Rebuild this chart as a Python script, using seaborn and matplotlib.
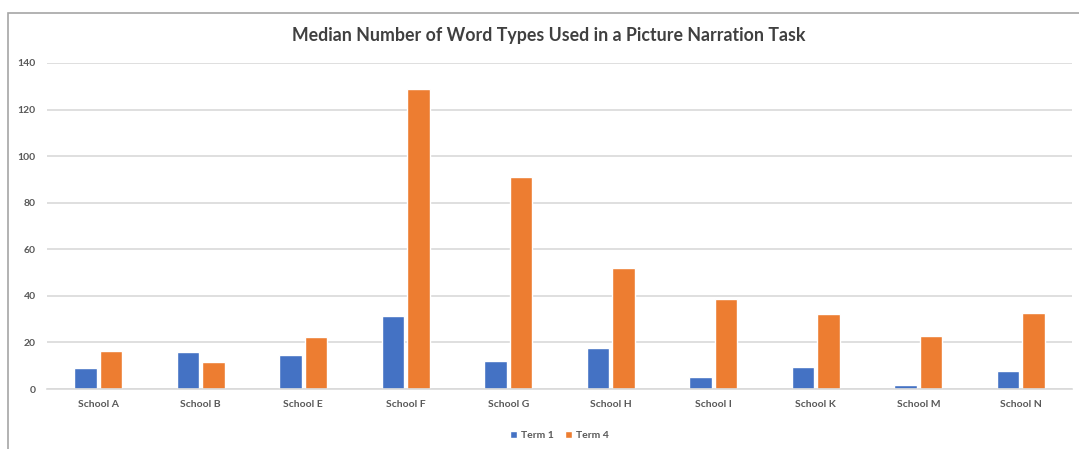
import seaborn as sns
import matplotlib.pyplot as plt
import pandas as pd
from matplotlib.patches import Rectangle

schools = ['School A', 'School B', 'School E', 'School F', 'School G',
           'School H', 'School I', 'School K', 'School M', 'School N']
term1 = [9, 16, 14.5, 31.5, 12, 17.5, 5.2, 9.5, 1.7, 7.7]
term4 = [16.5, 11.8, 22.3, 129, 91, 52, 38.7, 32.3, 22.8, 32.8]
terms = ['Term 1', 'Term 4']
colors = ['#4472C4', '#ED7D31']


def main():
    df = pd.DataFrame({'School': schools * 2,
                       'Term': [terms[0]] * len(schools) + [terms[1]] * len(schools),
                       'Value': term1 + term4})

    sns.set_style('white')
    plt.rcParams['font.family'] = ['Lato', 'DejaVu Sans']

    fig = plt.figure(figsize=(10.79, 4.49), dpi=100)
    ax = fig.add_axes([0.0436, 0.1336, 0.95, 0.7261])

    sns.barplot(data=df, x='School', y='Value', hue='Term', palette=colors,
                width=0.5, gap=0.12, saturation=1, ax=ax, legend=True)

    ax.set_ylim(0, 140)
    ax.set_yticks(range(0, 141, 20))
    ax.yaxis.grid(True, color='#D9D9D9', linewidth=1.2)
    ax.set_axisbelow(True)
    for s in ['top', 'right', 'left']:
        ax.spines[s].set_visible(False)
    ax.spines['bottom'].set_color('#D9D9D9')
    ax.spines['bottom'].set_linewidth(1.2)
    ax.tick_params(axis='both', length=0, labelsize=7.5, labelcolor='#595959', pad=8)
    for lab in ax.get_xticklabels() + ax.get_yticklabels():
        lab.set_fontweight('bold')
    ax.set_xlabel('')
    ax.set_ylabel('')

    fig.text(0.509, 0.922, 'Median Number of Word Types Used in a Picture Narration Task',
             ha='center', va='center', fontsize=12.8, fontweight='bold', color='#404040')

    leg = ax.legend(loc='upper center', bbox_to_anchor=(0.5, -0.1), ncol=2, frameon=False,
                    fontsize=7.5, handlelength=0.7, handleheight=0.7, columnspacing=1.0,
                    handletextpad=0.4)
    for t in leg.get_texts():
        t.set_color('#595959')
        t.set_fontweight('bold')

    # chart border
    fig.patches.append(Rectangle((8 / 1079, -0.05), 1.1, 1 - 13 / 449 + 0.05,
                                 transform=fig.transFigure, fill=False,
                                 edgecolor='#A6A6A6', linewidth=1.2))

    plt.savefig('out.png', dpi=100)


if __name__ == '__main__':
    main()
